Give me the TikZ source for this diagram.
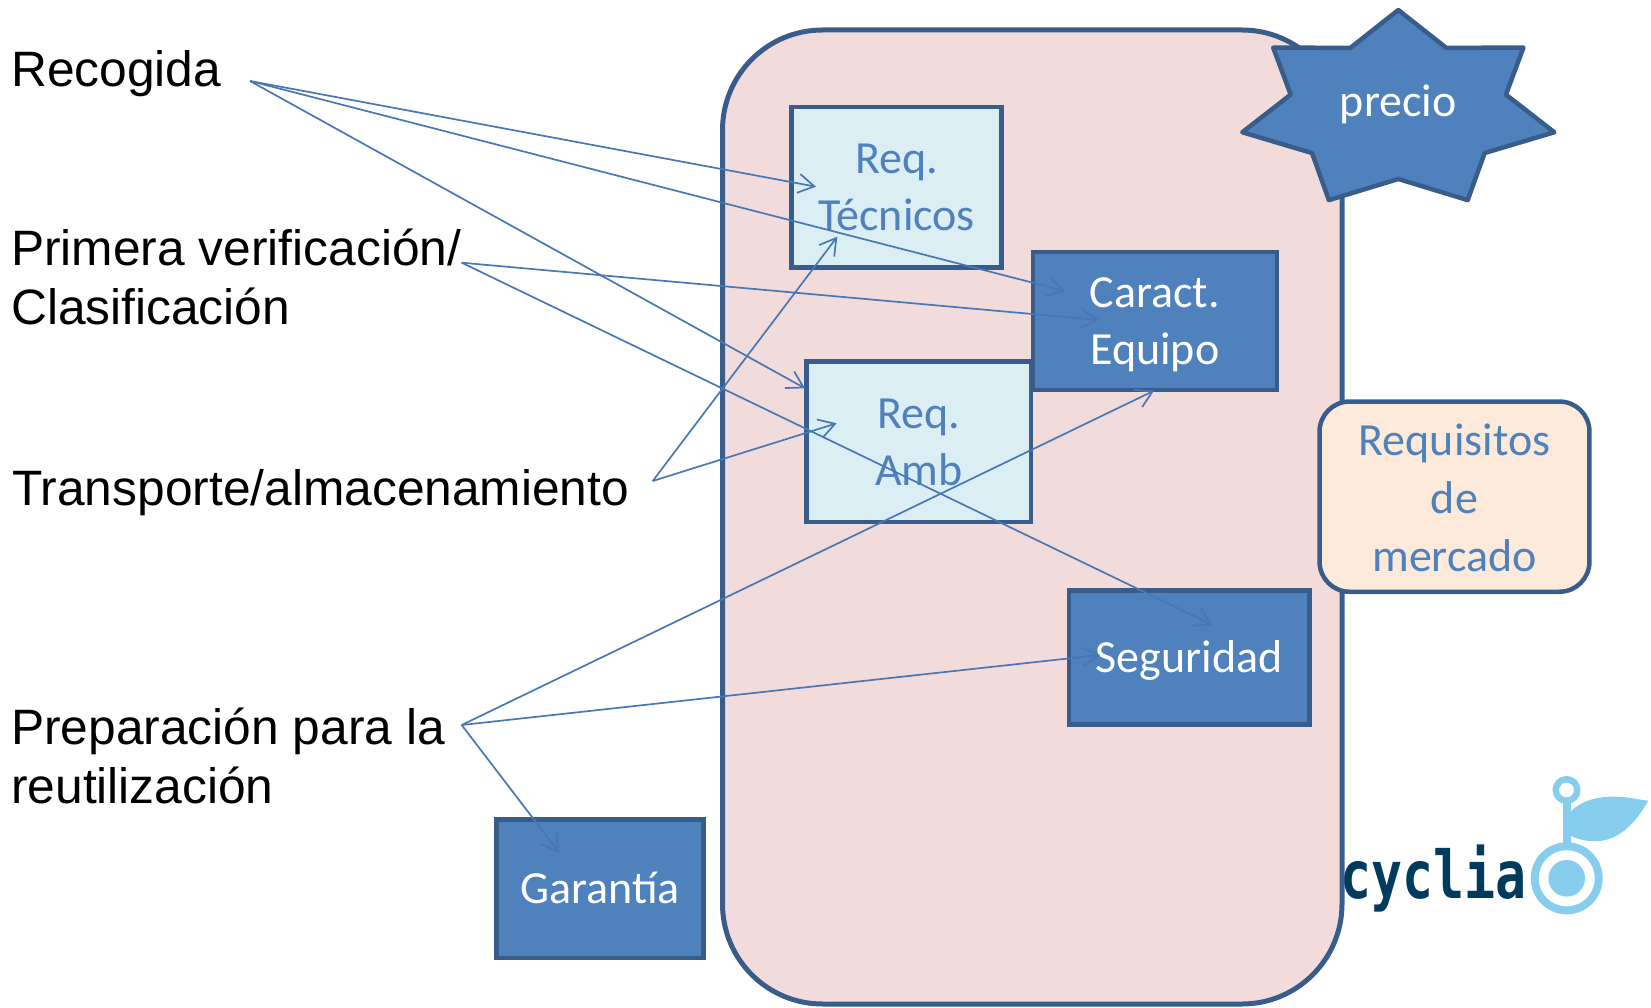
\documentclass[tikz,border=0pt]{standalone}
\usepackage{fontspec}
\usepackage{graphicx}
\setmainfont{Liberation Sans}
\newfontfamily\calib{Carlito}
\newfontfamily\logof{DejaVu Sans Mono}
\usetikzlibrary{arrows.meta}
\definecolor{accent}{HTML}{4F81BD}
\definecolor{connc}{HTML}{4778B6}
\definecolor{bordc}{HTML}{385D8A}
\definecolor{lightfill}{HTML}{DBEEF4}
\definecolor{pinkfill}{HTML}{F2DCDB}
\definecolor{peachfill}{HTML}{FDEADA}
\definecolor{logoteal}{HTML}{003A5D}
\definecolor{logoblue}{HTML}{87CEEE}
\newcommand\bxs{\rule[-10.5pt]{0pt}{50.5pt}}
\newcommand\bxt{\rule[-8.5pt]{0pt}{50.5pt}}
\newcommand\lbs{\rule[-12pt]{0pt}{58pt}}
\tikzset{
  boxbase/.style={draw=bordc, line width=4.5pt, inner sep=0pt, align=center,
    font=\calib\fontsize{46}{57}\selectfont},
  lightbox/.style={boxbase, fill=lightfill, text=accent},
  darkbox/.style={boxbase, fill=accent, text=white},
  mktbox/.style={boxbase, fill=peachfill, text=accent, rounded corners=30pt,
    font=\calib\fontsize{46}{58.3}\selectfont},
  lbl/.style={font=\fontsize{49.7}{59}\selectfont, align=left, inner sep=0pt,
    anchor=north west, text=black},
  conn/.style={draw=connc, line width=1.7pt,
    -{Straight Barb[length=16pt,width=19pt]}}
}
\begin{document}
\begin{tikzpicture}[x=1pt,y=-1pt]
\useasboundingbox (0,0) rectangle (1651,1008);

% big rounded frame
\draw[bordc, fill=pinkfill, line width=5pt, rounded corners=100pt]
  (722.5,30) rectangle (1342,1004);

% logo
\node[anchor=base west, inner sep=0pt, text=logoteal,
  font=\logof\bfseries\fontsize{66}{66}\selectfont] (logo) at (1340,898)
  {\scalebox{0.78}[1]{cyclia}};
\fill[logoblue] (1566.7,878.3) circle (36);
\fill[white] (1566.7,878.3) circle (28);
\fill[logoblue] (1566.7,878.3) circle (18.3);
\fill[logoblue] (1562.5,800) rectangle (1570.8,845);
\draw[logoblue, line width=6.5pt] (1566.5,790) circle (10.75);
\fill[logoblue] (1569.3,813.3) .. controls (1580,800) and (1600,796) .. (1616.7,796.7)
  .. controls (1630,797) and (1640,800) .. (1648.3,800.7)
  .. controls (1640,815) and (1625,838) .. (1600,841)
  .. controls (1590,842) and (1578,840) .. (1569.3,835) -- cycle;

% star
\draw[bordc, fill=accent, line width=4.5pt, line join=round]
  plot[samples at={0,...,13}]
  ({1398.3+1.6*(mod(\x,2)==0 ? 100 : 69)*cos(90+\x*25.7143)},
   {110-(mod(\x,2)==0 ? 100 : 69)*sin(90+\x*25.7143)}) -- cycle;
\node[inner sep=0pt, text=white, font=\calib\fontsize{46}{57}\selectfont]
  (precio) at (1398.3,102) {\bxs precio};

% boxes
\node[lightbox, minimum width=210.2pt, minimum height=160.5pt] (tec)
  at (896.6,187.5) {\bxs Req.\\\bxs Técnicos};
\node[lightbox, minimum width=224.5pt, minimum height=160.5pt] (amb)
  at (918.8,441.8) {\bxs Req.\\\bxs Amb};
\node[darkbox, minimum width=243.8pt, minimum height=137.8pt] (car)
  at (1154.85,321.15) {\bxs Caract.\\\bxs Equipo};
\node[darkbox, minimum width=240.5pt, minimum height=133.9pt] (seg)
  at (1189.2,657.5) {\bxs Seguridad};
\node[darkbox, minimum width=206.9pt, minimum height=138.2pt] (gar)
  at (600,888.65) {\bxs Garantía};
\node[mktbox, minimum width=269.9pt, minimum height=190.2pt] (mkt)
  at (1454.5,496.65) {\bxt Requisitos\\\bxt de\\\bxt mercado};

% left labels
\node[lbl] (rec) at (11,40.7) {\lbs Recogida};
\node[lbl] (pri) at (11,219) {\lbs Primera verificación/\\\lbs Clasificación};
\node[lbl] (tra) at (12,459) {\lbs Transporte/almacenamiento};
\node[lbl] (pre) at (11,698) {\lbs Preparación para la\\\lbs reutilización};

% connector end points
\coordinate (oRec) at (250,81);
\coordinate (oPri) at (461.7,262.7);
\coordinate (oTra) at (652.7,481);
\coordinate (oPre) at (461.7,725);
\coordinate (tTecA) at (816,186.7);
\coordinate (tCarA) at (1065,291);
\coordinate (tAmbA) at (805,388.3);
\coordinate (tCarB) at (1099,320);
\coordinate (tSegA) at (1212.7,625);
\coordinate (tTecB) at (837.3,236.7);
\coordinate (tAmbB) at (836.7,423.3);
\coordinate (tCarC) at (1154,390.7);
\coordinate (tSegB) at (1100,655);
\coordinate (tGar) at (559.3,852.7);

% connectors
\draw[conn] (oRec) -- (tTecA);
\draw[conn] (oRec) -- (tCarA);
\draw[conn] (oRec) -- (tAmbA);
\draw[conn] (oPri) -- (tCarB);
\draw[conn] (oPri) -- (tSegA);
\draw[conn] (oTra) -- (tTecB);
\draw[conn] (oTra) -- (tAmbB);
\draw[conn] (oPre) -- (tCarC);
\draw[conn] (oPre) -- (tSegB);
\draw[conn] (oPre) -- (tGar);
\end{tikzpicture}
\end{document}
